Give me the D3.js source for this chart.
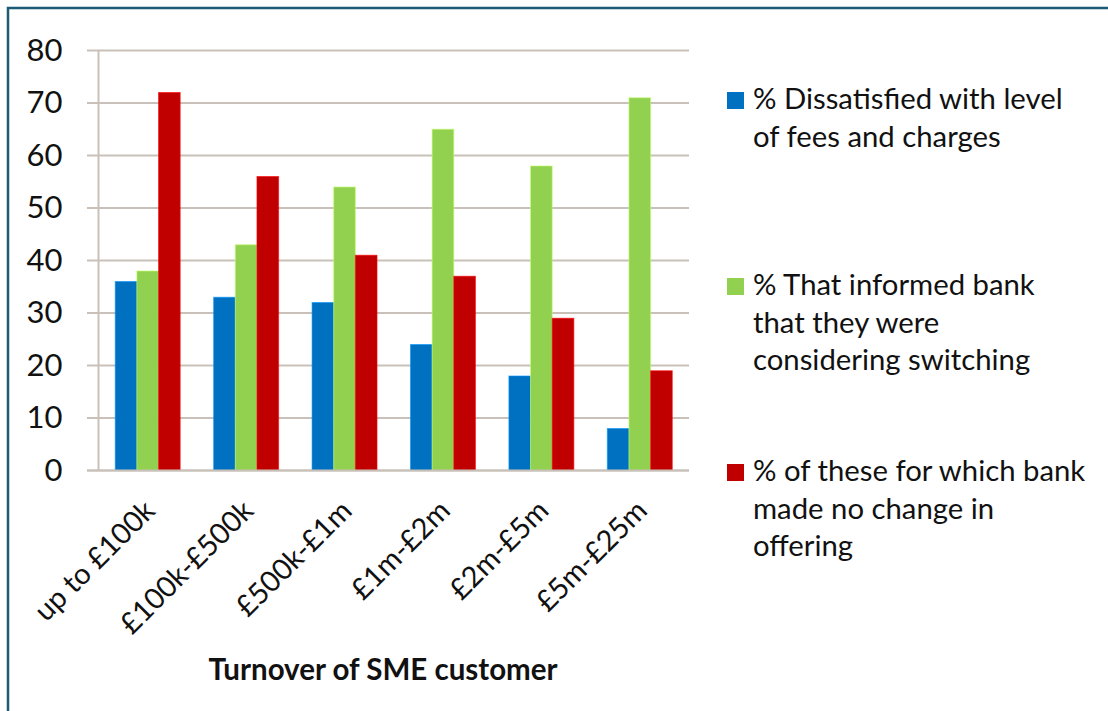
<!DOCTYPE html>
<html>
<head>
<meta charset="utf-8">
<script src="https://cdn.jsdelivr.net/npm/d3@7"></script>
<style>
  body { margin: 0; background: #fff; }
  text { font-family: Lato, "Open Sans", sans-serif; fill: #111; }
</style>
</head>
<body>
<svg id="chart" width="1108" height="711"></svg>
<script>

// data
const categories = ["up to £100k", "£100k-£500k", "£500k-£1m", "£1m-£2m", "£2m-£5m", "£5m-£25m"];
const dissatisfied = [36, 33, 32, 24, 18, 8];
const informed     = [38, 43, 54, 65, 58, 71];
const noChange     = [72, 56, 41, 37, 29, 19];
const yTicks = [0, 10, 20, 30, 40, 50, 60, 70, 80];

const seriesNames = [
    ["% Dissatisfied with level", "of fees and charges"],
    ["% That informed bank", "that they were", "considering switching"],
    ["% of these for which bank", "made no change in", "offering"]
];
const seriesColors = ["#0070c0", "#92d050", "#c00000"];

const svg = d3.select("#chart");

// outer frame (only top and left visible)
svg.append("rect")
   .attr("x", 8).attr("y", 8)
   .attr("width", 1200).attr("height", 800)
   .attr("fill", "none")
   .attr("stroke", "#1d5a74")
   .attr("stroke-width", 2.5);

const plotLeft = 98.5, plotRight = 689, plotTop = 50.5, plotBottom = 470.5;

const xScale = d3.scaleBand()
                 .domain(categories)
                 .range([plotLeft, plotRight])
                 .paddingInner(0.34)
                 .paddingOuter(0.17);

const xSub = d3.scaleBand()
               .domain([0, 1, 2])
               .range([0, xScale.bandwidth()]);

const yScale = d3.scaleLinear()
                 .domain([0, 80])
                 .range([plotBottom, plotTop]);

const gridColor = "#c9c1b9";

// gridlines
svg.selectAll("line.grid")
   .data(yTicks)
   .enter()
   .append("line")
   .attr("class", "grid")
   .attr("x1", 87)
   .attr("x2", plotRight)
   .attr("y1", d => yScale(d))
   .attr("y2", d => yScale(d))
   .attr("stroke", gridColor)
   .attr("stroke-width", 2);

// y axis line
svg.append("line")
   .attr("x1", plotLeft).attr("x2", plotLeft)
   .attr("y1", plotTop).attr("y2", plotBottom)
   .attr("stroke", gridColor)
   .attr("stroke-width", 2);

// y tick labels
const yAxis = svg.append("g")
   .attr("transform", `translate(${plotLeft},0)`)
   .call(d3.axisLeft(yScale).tickValues(yTicks).tickSize(0).tickPadding(36));
yAxis.select(".domain").remove();
yAxis.selectAll("text")
     .style("font-family", "Lato, sans-serif")
     .style("font-size", "31px")
     .attr("fill", "#111");

// bars
const series = [dissatisfied, informed, noChange];
series.forEach((vals, si) => {
    svg.selectAll("rect.bar-" + si)
       .data(vals)
       .enter()
       .append("rect")
       .attr("class", "bar-" + si)
       .attr("x", (d, i) => xScale(categories[i]) + xSub(si))
       .attr("width", xSub.bandwidth())
       .attr("y", d => yScale(d))
       .attr("height", d => yScale(0) - yScale(d))
       .attr("fill", seriesColors[si])
       .attr("stroke", d3.color(seriesColors[si]).brighter(0.8))
       .attr("stroke-opacity", 0.6)
       .attr("stroke-width", 1);
});

// x axis baseline
svg.append("line")
   .attr("x1", 87).attr("x2", plotRight)
   .attr("y1", plotBottom).attr("y2", plotBottom)
   .attr("stroke", gridColor)
   .attr("stroke-width", 2);

// rotated category labels
svg.selectAll("text.cat")
   .data(categories)
   .enter()
   .append("text")
   .attr("class", "cat")
   .attr("text-anchor", "end")
   .attr("font-size", "29px")
   .attr("transform", d => `translate(${xScale(d) + xScale.bandwidth() / 2 + 9},${plotBottom + 42}) rotate(-45)`)
   .text(d => d);

// axis title
svg.append("text")
   .attr("x", 383)
   .attr("y", 680)
   .attr("text-anchor", "middle")
   .attr("font-size", "29.5px")
   .attr("font-weight", "bold")
   .text("Turnover of SME customer");

// legend
const legendBase = [109, 295, 481];
const lineGap = 37.5;

seriesNames.forEach((lines, si) => {
    const g = svg.append("g");
    g.append("rect")
     .attr("x", 727)
     .attr("y", legendBase[si] - 17)
     .attr("width", 17)
     .attr("height", 17)
     .attr("fill", seriesColors[si]);
    g.selectAll("text")
     .data(lines)
     .enter()
     .append("text")
     .attr("x", 753)
     .attr("y", (d, i) => legendBase[si] + i * lineGap)
     .attr("font-size", "29.3px")
     .text(d => d);
});

</script>
</body>
</html>
